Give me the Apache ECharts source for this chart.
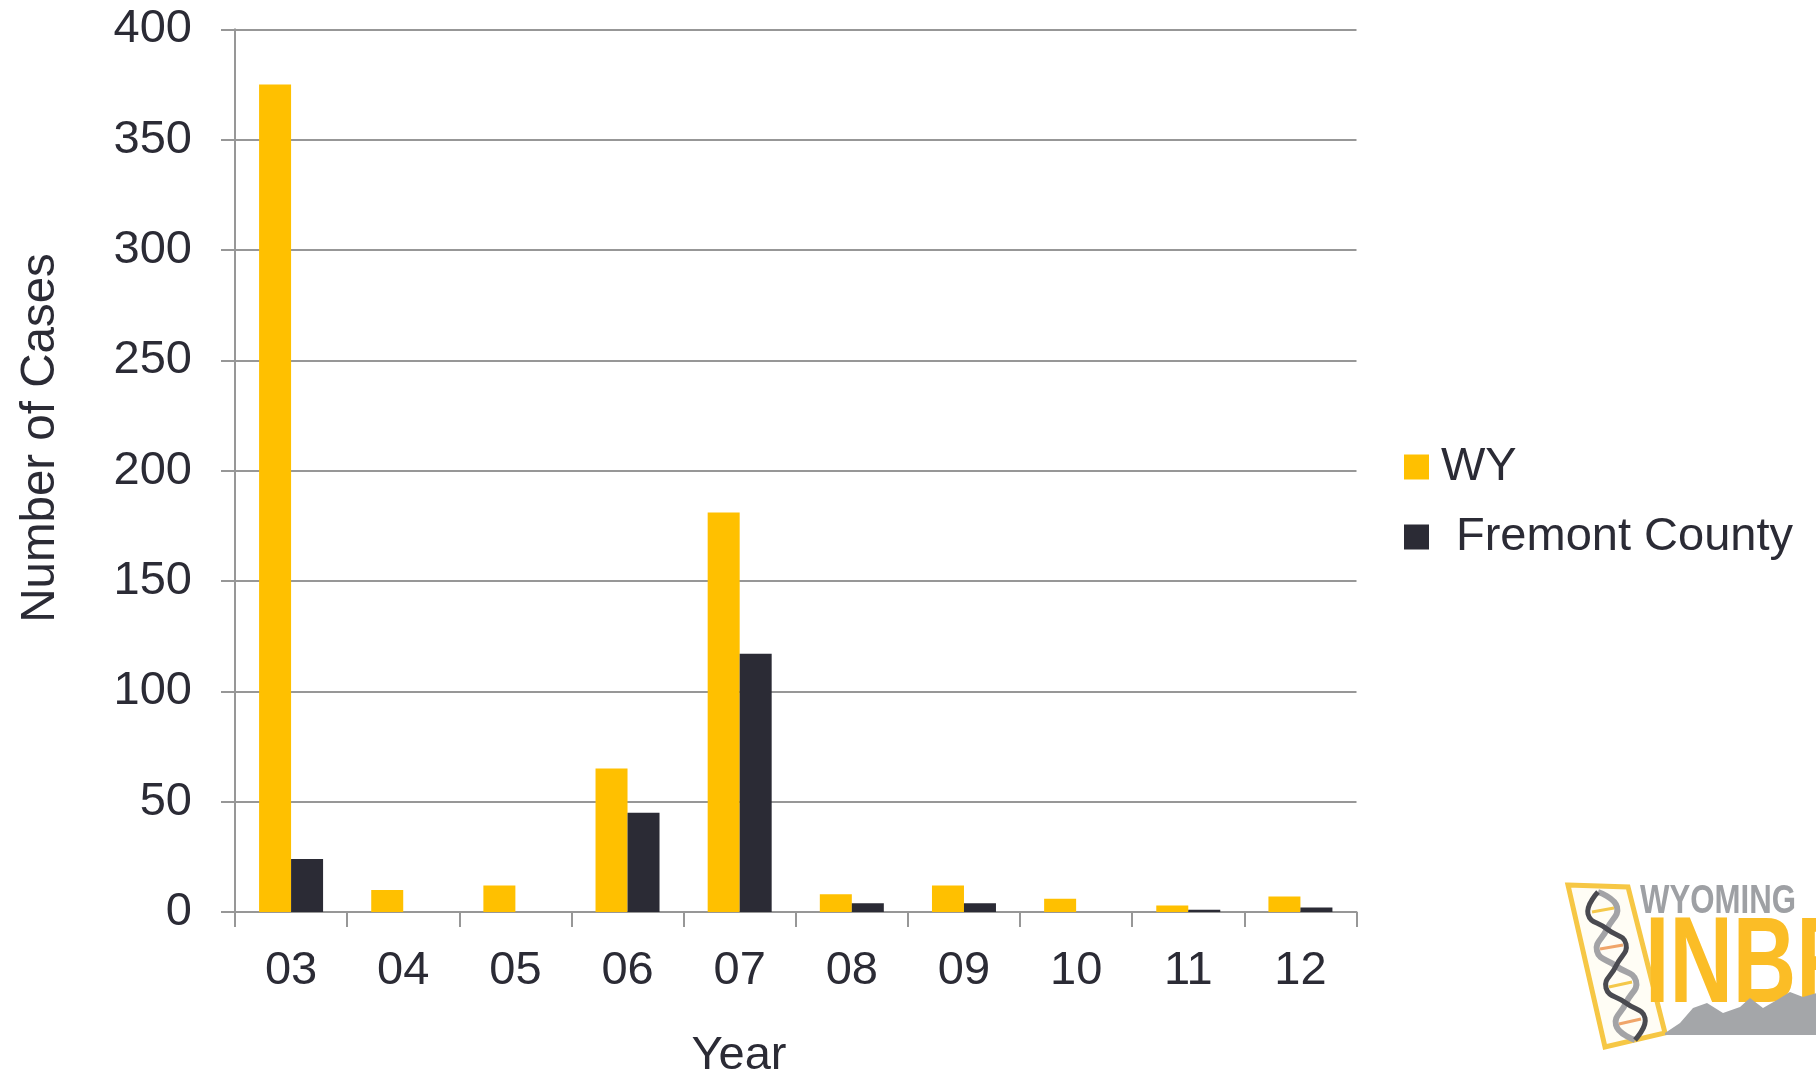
<!DOCTYPE html>
<html>
<head>
<meta charset="utf-8">
<script src="https://cdn.jsdelivr.net/npm/echarts@6/dist/echarts.min.js"></script>
<style>
  html, body { margin: 0; padding: 0; background: #ffffff; }
  #chart { width: 1816px; height: 1075px; }
</style>
</head>
<body>
<div id="chart"></div>
<script>
// ---- data ----
var years = ['03', '04', '05', '06', '07', '08', '09', '10', '11', '12'];
var wyCases = [375, 10, 12, 65, 181, 8, 12, 6, 3, 7];
var fremontCases = [24, 0, 0, 45, 117, 4, 4, 0, 1, 2];
var seriesNames = ['WY', 'Fremont County'];
var yTicks = { min: 0, max: 400, interval: 50 };
var yTitle = 'Number of Cases';
var xTitle = 'Year';

// ---- style ----
var FONT = "'Liberation Sans', Arial, Helvetica, sans-serif";
var TEXT = '#2b2b35';
var GRAY = '#979797';
var YELLOW = '#FFC000';
var DARK = '#2b2b35';

var chart = echarts.init(document.getElementById('chart'), null, { renderer: 'canvas' });

var option = {
  backgroundColor: '#ffffff',
  animation: false,
  textStyle: { fontFamily: FONT },
  grid: { left: 235, top: 29.3, right: 459.5, bottom: 163, containLabel: false },
  legend: {
    orient: 'vertical',
    left: 1404,
    top: 443.5,
    padding: 0,
    itemWidth: 25,
    itemHeight: 25,
    itemGap: 23,
    icon: 'rect',
    selectedMode: false,
    textStyle: { fontFamily: FONT, fontSize: 47, lineHeight: 46, color: TEXT },
    data: [
      { name: seriesNames[0], textStyle: { padding: [0, 0, 0, 7] } },
      { name: seriesNames[1], textStyle: { padding: [0, 0, 0, 22] } }
    ]
  },
  xAxis: {
    type: 'category',
    data: years,
    axisLine: { show: true, lineStyle: { color: GRAY, width: 2 } },
    axisTick: { show: true, length: 15, alignWithLabel: false, lineStyle: { color: GRAY, width: 2 } },
    axisLabel: { fontFamily: FONT, fontSize: 47, lineHeight: 46, color: TEXT, margin: 36 },
    splitLine: { show: false }
  },
  yAxis: {
    type: 'value',
    min: yTicks.min,
    max: yTicks.max,
    interval: yTicks.interval,
    axisLine: { show: true, lineStyle: { color: GRAY, width: 2 } },
    axisTick: { show: true, length: 14, lineStyle: { color: GRAY, width: 2 } },
    axisLabel: { fontFamily: FONT, fontSize: 47, color: TEXT, margin: 43 },
    splitLine: { show: true, lineStyle: { color: GRAY, width: 2 } }
  },
  series: [
    {
      name: seriesNames[0], type: 'bar', data: wyCases,
      barWidth: 32, barGap: '0%',
      itemStyle: { color: YELLOW }
    },
    {
      name: seriesNames[1], type: 'bar', data: fremontCases,
      barWidth: 32, barGap: '0%',
      itemStyle: { color: DARK }
    }
  ],
  graphic: [
    {
      type: 'text', x: 41, y: 438, rotation: Math.PI / 2,
      style: { text: yTitle, font: '47.5px ' + FONT, fill: TEXT, align: 'center', verticalAlign: 'middle' }
    },
    {
      type: 'text', x: 739, y: 1056,
      style: { text: xTitle, font: '47px ' + FONT, fill: TEXT, align: 'center', verticalAlign: 'middle' }
    },
    // decorative logo (bottom right)
    {
      type: 'group', silent: true,
      children: [
        {
          type: 'polygon', z: 1,
          shape: { points: [[1568, 885], [1628, 887], [1665, 1033], [1605, 1047]] },
          style: { fill: '#fffdf5', stroke: '#f6c745', lineWidth: 5 }
        },
        {
          type: 'polyline', z: 2,
          shape: { smooth: 0.5, points: [[1598, 892], [1617, 907], [1607, 929], [1597, 951], [1616, 966], [1636, 981], [1626, 1003], [1616, 1025], [1635, 1040]] },
          style: { stroke: '#a3a3a6', lineWidth: 6, fill: null }
        },
        {
          type: 'polyline', z: 2,
          shape: { smooth: 0.5, points: [[1598, 892], [1588, 914], [1607, 929], [1626, 944], [1616, 966], [1606, 988], [1626, 1003], [1645, 1018], [1635, 1040]] },
          style: { stroke: '#4a4a50', lineWidth: 5, fill: null }
        },
        { type: 'line', z: 3, shape: { x1: 1592, y1: 912, x2: 1614, y2: 908 }, style: { stroke: '#f4c84a', lineWidth: 3 } },
        { type: 'line', z: 3, shape: { x1: 1600, y1: 949, x2: 1623, y2: 945 }, style: { stroke: '#f0a56a', lineWidth: 3 } },
        { type: 'line', z: 3, shape: { x1: 1609, y1: 987, x2: 1632, y2: 982 }, style: { stroke: '#f4c84a', lineWidth: 3 } },
        { type: 'line', z: 3, shape: { x1: 1619, y1: 1024, x2: 1641, y2: 1019 }, style: { stroke: '#f0a56a', lineWidth: 3 } },
        {
          type: 'text', z: 2, x: 1640, y: 902, scaleX: 0.78,
          style: { text: 'WYOMING', font: 'bold 40px ' + FONT, fill: '#9ea0a4', align: 'left', verticalAlign: 'middle' }
        },
        {
          type: 'text', z: 2, x: 1645, y: 968, scaleX: 0.72,
          style: { text: 'INBRE', font: 'bold 122px ' + FONT, fill: '#fbbd26', align: 'left', verticalAlign: 'middle' }
        },
        {
          type: 'polygon', z: 4,
          shape: { points: [[1665, 1033], [1680, 1023], [1693, 1008], [1707, 1003], [1723, 1013], [1740, 1007], [1750, 998], [1763, 1008], [1777, 1000], [1790, 992], [1803, 997], [1817, 993], [1817, 1035], [1665, 1035]] },
          style: { fill: '#a4a6a9' }
        }
      ]
    }
  ]
};

chart.setOption(option);
</script>
</body>
</html>
